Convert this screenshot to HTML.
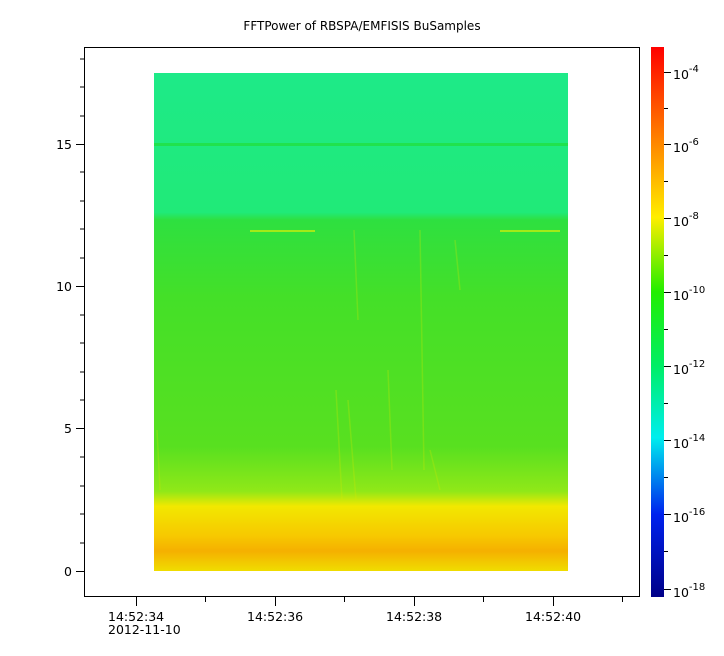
<!DOCTYPE html>
<html><head><meta charset="utf-8"><style>
body{margin:0;background:#fff}
svg{display:block;font-family:"DejaVu Sans","Liberation Sans",sans-serif}
</style></head><body>
<svg width="724" height="656" viewBox="0 0 724 656" xmlns="http://www.w3.org/2000/svg">
<defs>
<linearGradient id="cb" x1="0" y1="0" x2="0" y2="1">
<stop offset="0" stop-color="#ff0000"/>
<stop offset="0.176" stop-color="#ff8800"/>
<stop offset="0.31" stop-color="#ffee00"/>
<stop offset="0.445" stop-color="#22ee00"/>
<stop offset="0.58" stop-color="#00ee66"/>
<stop offset="0.71" stop-color="#00eeee"/>
<stop offset="0.85" stop-color="#0022ee"/>
<stop offset="1" stop-color="#000088"/>
</linearGradient>
<linearGradient id="sp" x1="0" y1="73" x2="0" y2="571" gradientUnits="userSpaceOnUse">
<stop offset="0" stop-color="#1eea88"/>
<stop offset="0.28" stop-color="#20ea78"/>
<stop offset="0.295" stop-color="#2ee040"/>
<stop offset="0.45" stop-color="#44e028"/>
<stop offset="0.75" stop-color="#58e020"/>
<stop offset="0.84" stop-color="#90e818"/>
<stop offset="0.87" stop-color="#f2e800"/>
<stop offset="0.93" stop-color="#f7c800"/>
<stop offset="0.96" stop-color="#f5b000"/>
<stop offset="1" stop-color="#f0dd00"/>
</linearGradient>
</defs>
<text x="362" y="30" font-size="12" text-anchor="middle" fill="#000">FFTPower of RBSPA/EMFISIS  BuSamples</text>
<rect x="154" y="73" width="414" height="498" fill="url(#sp)"/>
<rect x="154" y="143" width="414" height="3" fill="#20e040" opacity="0.8"/>
<rect x="250" y="230" width="65" height="2" fill="#f0f000" opacity="0.6"/>
<rect x="500" y="230" width="60" height="2" fill="#f0f000" opacity="0.6"/>
<g stroke="#d8e800" stroke-width="1.5" opacity="0.25" fill="none">
<path d="M336 390 L342 500"/><path d="M348 400 L356 500"/><path d="M354 230 L358 320"/>
<path d="M420 230 L424 470"/><path d="M455 240 L460 290"/><path d="M388 370 L392 470"/>
<path d="M430 450 L440 490"/><path d="M157 430 L160 490"/>
</g>
<rect x="84.5" y="47.5" width="555" height="549" fill="none" stroke="#000" stroke-width="1"/>
<g stroke="#000" stroke-width="1">
<line x1="76" y1="571.5" x2="84" y2="571.5"/><line x1="76" y1="428.5" x2="84" y2="428.5"/>
<line x1="76" y1="286.5" x2="84" y2="286.5"/><line x1="76" y1="144.5" x2="84" y2="144.5"/>
<line x1="80" y1="543" x2="84" y2="543"/><line x1="80" y1="514" x2="84" y2="514"/><line x1="80" y1="486" x2="84" y2="486"/><line x1="80" y1="457" x2="84" y2="457"/>
<line x1="80" y1="400" x2="84" y2="400"/><line x1="80" y1="372" x2="84" y2="372"/><line x1="80" y1="343" x2="84" y2="343"/><line x1="80" y1="315" x2="84" y2="315"/>
<line x1="80" y1="258" x2="84" y2="258"/><line x1="80" y1="229" x2="84" y2="229"/><line x1="80" y1="201" x2="84" y2="201"/><line x1="80" y1="172" x2="84" y2="172"/>
<line x1="80" y1="116" x2="84" y2="116"/><line x1="80" y1="87" x2="84" y2="87"/><line x1="80" y1="59" x2="84" y2="59"/>
<line x1="136.5" y1="597" x2="136.5" y2="606"/><line x1="275.5" y1="597" x2="275.5" y2="606"/>
<line x1="414.5" y1="597" x2="414.5" y2="606"/><line x1="553.5" y1="597" x2="553.5" y2="606"/>
<line x1="205.5" y1="597" x2="205.5" y2="602"/><line x1="344.5" y1="597" x2="344.5" y2="602"/>
<line x1="483.5" y1="597" x2="483.5" y2="602"/><line x1="622.5" y1="597" x2="622.5" y2="602"/>
</g>
<g font-size="12.5" fill="#000" text-anchor="end">
<text x="72" y="576">0</text><text x="72" y="433">5</text><text x="72" y="291">10</text><text x="72" y="149">15</text>
</g>
<g font-size="12.5" fill="#000">
<text x="108" y="621">14:52:34</text><text x="108" y="634">2012-11-10</text>
<text x="247" y="621">14:52:36</text><text x="386" y="621">14:52:38</text><text x="525" y="621">14:52:40</text>
</g>
<rect x="651" y="47" width="13" height="550" fill="url(#cb)"/>
<g stroke="#000" stroke-width="1">
<line x1="664" y1="72.5" x2="671" y2="72.5"/><line x1="664" y1="144.5" x2="671" y2="144.5"/>
<line x1="664" y1="218.5" x2="671" y2="218.5"/><line x1="664" y1="292.5" x2="671" y2="292.5"/>
<line x1="664" y1="366.5" x2="671" y2="366.5"/><line x1="664" y1="440.5" x2="671" y2="440.5"/>
<line x1="664" y1="514.5" x2="671" y2="514.5"/><line x1="664" y1="589.5" x2="671" y2="589.5"/>
<line x1="664" y1="108.5" x2="668" y2="108.5"/><line x1="664" y1="181.5" x2="668" y2="181.5"/>
<line x1="664" y1="255.5" x2="668" y2="255.5"/><line x1="664" y1="329.5" x2="668" y2="329.5"/>
<line x1="664" y1="403.5" x2="668" y2="403.5"/><line x1="664" y1="477.5" x2="668" y2="477.5"/>
<line x1="664" y1="551.5" x2="668" y2="551.5"/>
</g>
<g font-size="12.5" fill="#000">
<text x="673" y="79">10<tspan dy="-7" font-size="10">-4</tspan></text>
<text x="673" y="152">10<tspan dy="-7" font-size="10">-6</tspan></text>
<text x="673" y="226">10<tspan dy="-7" font-size="10">-8</tspan></text>
<text x="673" y="300">10<tspan dy="-7" font-size="10">-10</tspan></text>
<text x="673" y="374">10<tspan dy="-7" font-size="10">-12</tspan></text>
<text x="673" y="448">10<tspan dy="-7" font-size="10">-14</tspan></text>
<text x="673" y="522">10<tspan dy="-7" font-size="10">-16</tspan></text>
<text x="673" y="597">10<tspan dy="-7" font-size="10">-18</tspan></text>
</g>
</svg>
</body></html>
